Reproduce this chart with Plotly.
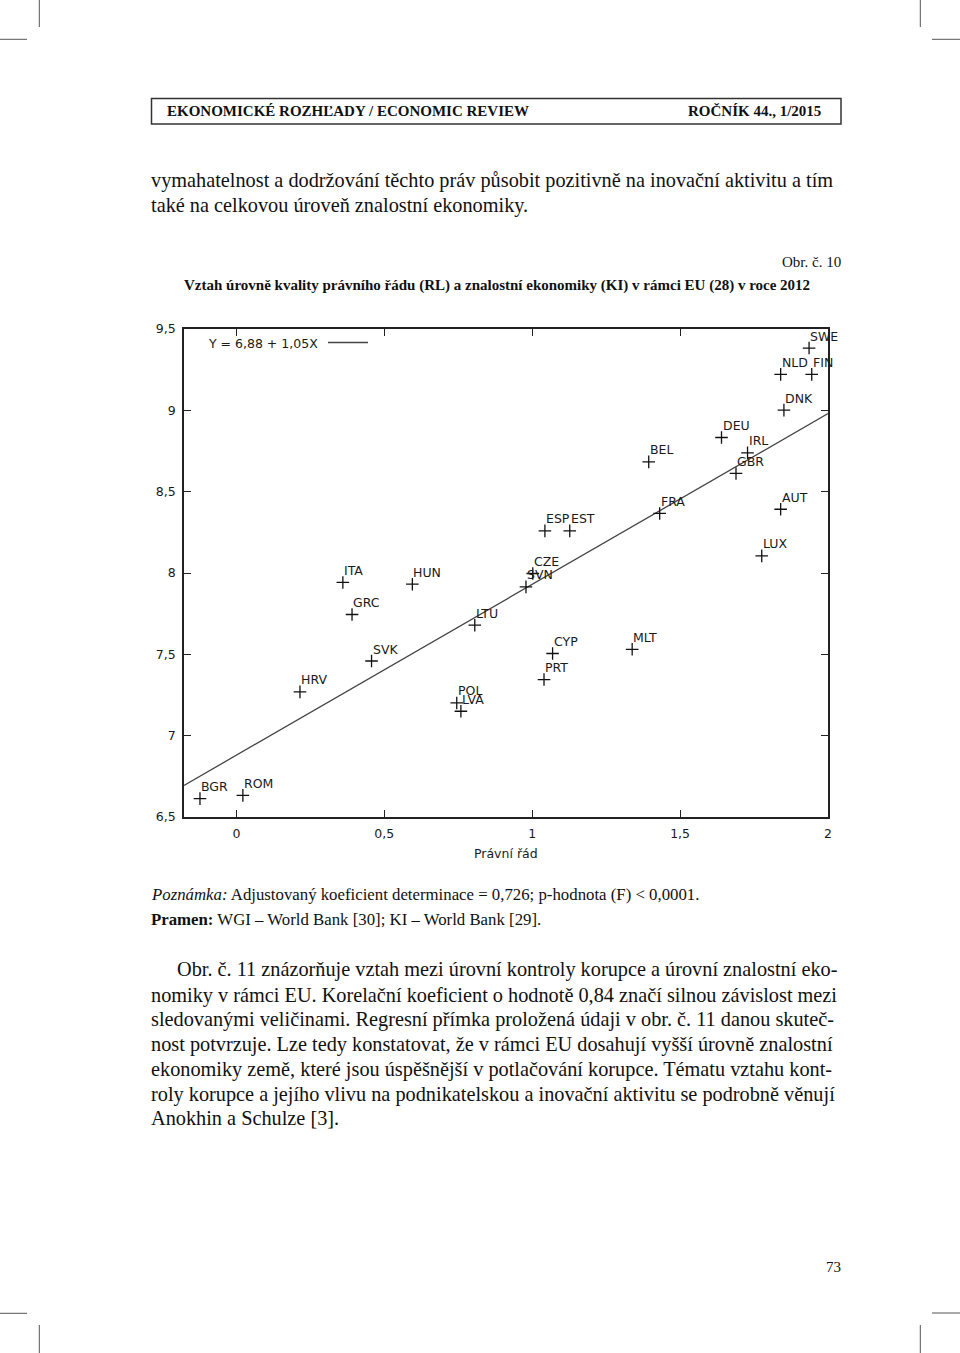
import plotly.graph_objects as go

# ---------------- data ----------------
countries = ["BGR", "ROM", "HRV", "SVK", "GRC", "ITA", "HUN", "LTU", "POL", "LVA",
             "SVN", "CZE", "CYP", "PRT", "MLT", "ESP", "EST", "FRA", "BEL", "DEU",
             "IRL", "GBR", "AUT", "LUX", "DNK", "NLD", "FIN", "SWE"]
rule_of_law = [-0.123, 0.022, 0.215, 0.457, 0.391, 0.360, 0.595, 0.806, 0.745, 0.759,
               0.979, 1.002, 1.069, 1.040, 1.338, 1.043, 1.127, 1.431, 1.394, 1.640,
               1.728, 1.689, 1.840, 1.776, 1.851, 1.840, 1.945, 1.936]
knowledge_index = [6.613, 6.633, 7.269, 7.459, 7.745, 7.942, 7.931, 7.679, 7.201, 7.150,
                   7.915, 7.997, 7.505, 7.345, 7.531, 8.259, 8.259, 8.366, 8.683, 8.833,
                   8.739, 8.612, 8.392, 8.105, 9.001, 9.221, 9.221, 9.383]
intercept = 6.88
slope = 1.05
x_range = [-0.177, 2.0]
y_range = [6.5, 9.5]
x_ticks = [0, 0.5, 1, 1.5, 2]
x_tick_labels = ["0", "0,5", "1", "1,5", "2"]
y_ticks = [6.5, 7, 7.5, 8, 8.5, 9, 9.5]
y_tick_labels = ["6,5", "7", "7,5", "8", "8,5", "9", "9,5"]
equation_label = "Y = 6,88 + 1,05X"
x_title = "Právní řád"

# ---------------- page geometry helpers ----------------
W, H = 960, 1353
L, R, T, B = 184, 828, 329, 817


def px(x):
    return (x - L) / (R - L)


def py(y):
    return (B - y) / (B - T)


SERIF = "Liberation Serif"
SANS = "DejaVu Sans"
CHART_TXT = "#1a1a1a"
CHART_FS = 12.5

fig = go.Figure()

# regression line
line_x = x_range
line_y = [intercept + slope * v for v in line_x]
fig.add_trace(go.Scatter(x=line_x, y=line_y, mode="lines",
                         line=dict(color="#444444", width=1.3),
                         hoverinfo="skip", showlegend=False, cliponaxis=True))

# points
fig.add_trace(go.Scatter(x=rule_of_law, y=knowledge_index, mode="markers",
                         marker=dict(symbol="cross-thin", size=9,
                                     line=dict(color="#111111", width=1.3)),
                         text=countries, showlegend=False, cliponaxis=False))

annotations = []
for c, xv, yv in zip(countries, rule_of_law, knowledge_index):
    annotations.append(dict(x=xv, y=yv, xref="x", yref="y", text=c,
                            showarrow=False, xanchor="left", yanchor="middle",
                            xshift=-1, yshift=12,
                            font=dict(family=SANS, size=CHART_FS, color=CHART_TXT)))

# legend (equation + line sample)
annotations.append(dict(x=px(206), y=py(343), xref="paper", yref="paper",
                        text=equation_label, showarrow=False, xanchor="left",
                        yanchor="middle", font=dict(family=SANS, size=CHART_FS, color=CHART_TXT)))
# axis title
annotations.append(dict(x=0.5, y=py(853), xref="paper", yref="paper",
                        text=x_title, showarrow=False, xanchor="center",
                        yanchor="middle", font=dict(family=SANS, size=CHART_FS, color=CHART_TXT)))


def page_text(text, x, y, size, anchor="left"):
    shift = -2 if anchor == "left" else (2 if anchor == "right" else 0)
    annotations.append(dict(x=px(x), y=py(y), xref="paper", yref="paper",
                            text=text, showarrow=False, xanchor=anchor,
                            yanchor="middle", xshift=shift,
                            font=dict(family=SERIF, size=size, color="#111111")))


BODY = 20.3

# header
page_text("<b>EKONOMICKÉ ROZHĽADY / ECONOMIC REVIEW</b>", 167, 111, 15)
page_text("<b>ROČNÍK 44., 1/2015</b>", 821, 111, 15, anchor="right")

# body top
page_text("vymahatelnost a dodržování těchto práv působit pozitivně na inovační aktivitu a tím", 151, 180, BODY)
page_text("také na celkovou úroveň znalostní ekonomiky.", 151, 205, BODY)

# figure caption
page_text("Obr. č. 10", 841, 262, 15, anchor="right")
page_text("<b>Vztah úrovně kvality právního řádu (RL) a znalostní ekonomiky (KI) v rámci EU (28) v roce 2012</b>",
          497, 285, 15, anchor="center")

# note + source
page_text("<i>Poznámka:</i> Adjustovaný koeficient determinace = 0,726; p-hodnota (F) &lt; 0,0001.", 151, 894, 16.8)
page_text("<b>Pramen:</b> WGI – World Bank [30]; KI – World Bank [29].", 151, 919, 16.8)

para = [
    ("Obr. č. 11 znázorňuje vztah mezi úrovní kontroly korupce a úrovní znalostní eko-", 177),
    ("nomiky v rámci EU. Korelační koeficient o hodnotě 0,84 značí silnou závislost mezi", 151),
    ("sledovanými veličinami. Regresní přímka proložená údaji v obr. č. 11 danou skuteč-", 151),
    ("nost potvrzuje. Lze tedy konstatovat, že v rámci EU dosahují vyšší úrovně znalostní", 151),
    ("ekonomiky země, které jsou úspěšnější v potlačování korupce. Tématu vztahu kont-", 151),
    ("roly korupce a jejího vlivu na podnikatelskou a inovační aktivitu se podrobně věnují", 151),
    ("Anokhin a Schulze [3].", 151),
]
para_y = [970, 995, 1019, 1044, 1069, 1094, 1118]
for (txt, xx), yy in zip(para, para_y):
    page_text(txt, xx, yy, BODY)

page_text("73", 841, 1267, 15, anchor="right")

# shapes: header box, legend line sample, crop marks
shapes = []
shapes.append(dict(type="rect", xref="paper", yref="paper",
                   x0=px(151.5), x1=px(841), y0=py(98.5), y1=py(124),
                   line=dict(color="#333333", width=1.5)))
shapes.append(dict(type="line", xref="paper", yref="paper",
                   x0=px(328), x1=px(368), y0=py(342.5), y1=py(342.5),
                   line=dict(color="#444444", width=1.3)))
crop = [
    (39.3, 0, 39.3, 27), (0, 39.3, 27, 39.3),
    (920.3, 0, 920.3, 27), (932, 39.3, 960, 39.3),
    (0, 1313.3, 27, 1313.3), (39.3, 1325, 39.3, 1353),
    (932, 1313, 960, 1313), (920.3, 1325, 920.3, 1353),
]
for x0, y0, x1, y1 in crop:
    shapes.append(dict(type="line", xref="paper", yref="paper",
                       x0=px(x0), x1=px(x1), y0=py(y0), y1=py(y1),
                       line=dict(color="#555555", width=1)))

axis_common = dict(showgrid=False, zeroline=False, showline=True, mirror="ticks",
                   linecolor="#222222", linewidth=1.6, ticks="inside", ticklen=7,
                   tickwidth=1.2, tickcolor="#222222", ticklabelstandoff=4,
                   tickfont=dict(family=SANS, size=CHART_FS, color=CHART_TXT))

fig.update_layout(
    width=W, height=H,
    margin=dict(l=L, r=W - R, t=T, b=H - B, pad=0),
    paper_bgcolor="white", plot_bgcolor="white",
    separators=", ",
    xaxis=dict(range=x_range, tickvals=x_ticks, ticktext=x_tick_labels, **axis_common),
    yaxis=dict(range=y_range, tickvals=y_ticks, ticktext=y_tick_labels, **axis_common),
    annotations=annotations,
    shapes=shapes,
    showlegend=False,
)

fig.write_html("out.html")
